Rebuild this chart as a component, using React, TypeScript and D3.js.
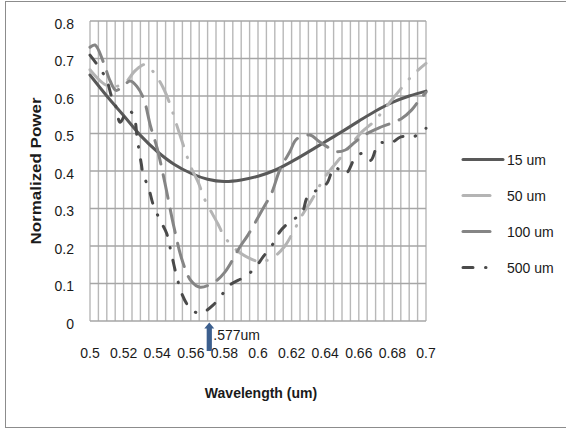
import * as d3 from "d3";

// 15 um
const wl15 = [0.5, 0.51, 0.52, 0.53, 0.54, 0.55, 0.56, 0.57, 0.58, 0.59, 0.6, 0.61, 0.62, 0.63, 0.64, 0.65, 0.66, 0.67, 0.68, 0.69, 0.7];
const pw15 = [0.656, 0.6, 0.548, 0.495, 0.452, 0.418, 0.394, 0.378, 0.372, 0.376, 0.386, 0.402, 0.425, 0.451, 0.478, 0.505, 0.533, 0.56, 0.583, 0.6, 0.613];

// 50 um
const wl50 = [0.5, 0.505, 0.51, 0.515, 0.521, 0.527, 0.533, 0.539, 0.544, 0.548, 0.551, 0.5565, 0.56, 0.5645, 0.568, 0.576, 0.58, 0.587, 0.595, 0.602, 0.61, 0.616, 0.621, 0.626, 0.632, 0.64, 0.65, 0.662, 0.669, 0.6815, 0.6924, 0.7];
const pw50 = [0.67, 0.645, 0.628, 0.625, 0.636, 0.668, 0.684, 0.656, 0.618, 0.573, 0.531, 0.456, 0.411, 0.369, 0.327, 0.26, 0.225, 0.19, 0.167, 0.158, 0.173, 0.2, 0.238, 0.28, 0.323, 0.385, 0.44, 0.505, 0.532, 0.6, 0.657, 0.687];

// 100 um
const wl100 = [0.5, 0.503, 0.508, 0.512, 0.5155, 0.52, 0.524, 0.528, 0.532, 0.536, 0.54, 0.5445, 0.55, 0.555, 0.56, 0.5655, 0.5744, 0.5804, 0.5893, 0.594, 0.603, 0.608, 0.613, 0.619, 0.623, 0.631, 0.636, 0.641, 0.646, 0.652, 0.658, 0.665, 0.672, 0.679, 0.6855, 0.6915, 0.696, 0.7];
const pw100 = [0.73, 0.736, 0.69, 0.64, 0.615, 0.628, 0.64, 0.625, 0.592, 0.52, 0.46, 0.37, 0.25, 0.16, 0.108, 0.09, 0.105, 0.131, 0.198, 0.229, 0.3, 0.34, 0.403, 0.452, 0.485, 0.496, 0.48, 0.465, 0.452, 0.456, 0.478, 0.5, 0.515, 0.527, 0.54, 0.563, 0.589, 0.61];

// 500 um
const wl500 = [0.5, 0.5058, 0.5099, 0.5129, 0.5149, 0.518, 0.5225, 0.5258, 0.5283, 0.5305, 0.5317, 0.5347, 0.5377, 0.5417, 0.5456, 0.548, 0.551, 0.555, 0.5595, 0.5635, 0.5665, 0.5734, 0.5792, 0.5833, 0.592, 0.598, 0.603, 0.6091, 0.613, 0.619, 0.626, 0.6295, 0.635, 0.641, 0.6455, 0.652, 0.6577, 0.662, 0.667, 0.672, 0.679, 0.685, 0.6924, 0.7];
const pw500 = [0.709, 0.674, 0.643, 0.598, 0.58, 0.53, 0.562, 0.55, 0.48, 0.42, 0.389, 0.358, 0.309, 0.269, 0.234, 0.189, 0.13, 0.069, 0.034, 0.022, 0.021, 0.043, 0.074, 0.096, 0.118, 0.14, 0.171, 0.207, 0.238, 0.265, 0.287, 0.331, 0.349, 0.367, 0.41, 0.392, 0.434, 0.447, 0.428, 0.474, 0.474, 0.491, 0.491, 0.514];

const seriesNames = ["15 um", "50 um", "100 um", "500 um"];
const xTickLabels = ["0.5", "0.52", "0.54", "0.56", "0.58", "0.6", "0.62", "0.64", "0.66", "0.68", "0.7"];
const yTickLabels = ["0", "0.1", "0.2", "0.3", "0.4", "0.5", "0.6", "0.7", "0.8"];
const markerWl = 0.571;
const markerLabel = ".577um";

const W = 566;
const H = 430;
const m = { left: 90, right: 426, top: 21, bottom: 321 };
const font = "'Liberation Sans', Arial, sans-serif";

const styles = [
  { color: "#595959", dash: null, sample: 41 },
  { color: "#b4b4b4", dash: "22 12 0.5 12", sample: 28 },
  { color: "#858585", dash: "24 11", sample: 28 },
  { color: "#4a4a4a", dash: "10 12.5 0.5 12.5", sample: 28 },
];

export default function App() {
  const x = d3.scaleLinear().domain([0.5, 0.7]).range([m.left, m.right]);
  const y = d3.scaleLinear().domain([0, 0.8]).range([m.bottom, m.top]);
  const line = d3
    .line<[number, number]>()
    .x((d) => x(d[0]))
    .y((d) => y(d[1]))
    .curve(d3.curveCatmullRom.alpha(0.5));

  const series = [
    d3.zip(wl15, pw15),
    d3.zip(wl50, pw50),
    d3.zip(wl100, pw100),
    d3.zip(wl500, pw500),
  ] as [number, number][][];

  const vGrid = d3.range(0, 41).map((i) => 0.5 + i * 0.005);
  const ax = x(markerWl);

  return (
    <svg
      width={W}
      height={H}
      style={{ position: "absolute", left: 0, top: 0 }}
      fontFamily={font}
    >
      <rect x={0} y={0} width={W} height={H} fill="white" />
      <rect x={5.5} y={1.5} width={620} height={426} fill="white" stroke="#8c8c8c" />

      <g stroke="#b8b8b8" strokeWidth={1.4}>
        {vGrid.map((v, i) => (
          <line key={i} x1={x(v)} x2={x(v)} y1={m.top} y2={m.bottom} />
        ))}
      </g>
      <g stroke="#a6a6a6" strokeWidth={1.4}>
        {yTickLabels.map((t) => (
          <line key={t} x1={m.left} x2={m.right} y1={y(+t)} y2={y(+t)} />
        ))}
      </g>

      <g fill="none" strokeWidth={3} strokeLinecap="round" strokeLinejoin="round">
        {series.map((s, i) => (
          <path
            key={seriesNames[i]}
            d={line(s) || ""}
            stroke={styles[i].color}
            strokeDasharray={styles[i].dash || undefined}
          />
        ))}
      </g>

      <g fontSize={14} fill="#1a1a1a" textAnchor="end">
        {yTickLabels.map((t) => (
          <text key={t} x={74} y={y(+t) + 7.5}>
            {t}
          </text>
        ))}
      </g>
      <g fontSize={14} fill="#1a1a1a" textAnchor="middle">
        {xTickLabels.map((t) => (
          <text key={t} x={x(+t)} y={358}>
            {t}
          </text>
        ))}
      </g>

      <text x={261} y={398} fontSize={14} fontWeight="bold" textAnchor="middle" fill="#1a1a1a">
        Wavelength (um)
      </text>
      <text
        transform={`translate(41,${(m.top + m.bottom) / 2}) rotate(-90)`}
        fontSize={14}
        fontWeight="bold"
        textAnchor="middle"
        fill="#1a1a1a"
        textLength={147}
        lengthAdjust="spacingAndGlyphs"
      >
        Normalized Power
      </text>

      <g fill="#3c5f8e">
        <path
          d={`M${ax},${m.bottom + 1.5} L${ax + 5},${m.bottom + 7.5} L${ax + 2.6},${m.bottom + 7.5} L${ax + 2.6},${m.bottom + 30} L${ax - 2.6},${m.bottom + 30} L${ax - 2.6},${m.bottom + 7.5} L${ax - 5},${m.bottom + 7.5} Z`}
        />
      </g>
      <text x={ax + 4} y={340} fontSize={14} fill="#1a1a1a">
        {markerLabel}
      </text>

      <g>
        {seriesNames.map((name, i) => {
          const cy = 159.5 + i * 36;
          return (
            <g key={name}>
              <line
                x1={463}
                x2={463 + styles[i].sample - 1}
                y1={cy}
                y2={cy}
                stroke={styles[i].color}
                strokeWidth={3}
                strokeLinecap="round"
                strokeDasharray={styles[i].dash ? (i === 3 ? "10 12.5 0.5 12.5" : undefined) : undefined}
              />
              <text x={507} y={cy + 5.5} fontSize={14} fill="#1a1a1a">
                {name}
              </text>
            </g>
          );
        })}
      </g>
    </svg>
  );
}
